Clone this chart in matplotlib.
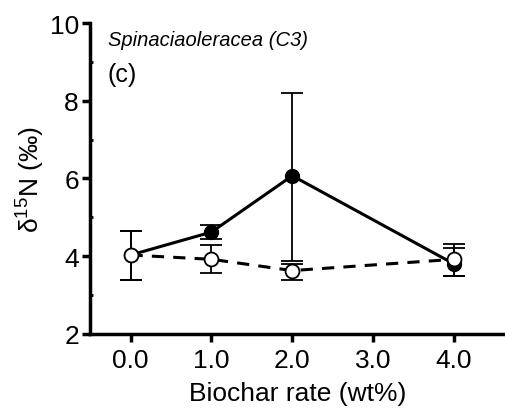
import matplotlib
matplotlib.use("Agg")
import matplotlib.pyplot as plt
from matplotlib.ticker import MultipleLocator

plt.rcParams['font.family'] = ['Liberation Sans', 'DejaVu Sans']
plt.rcParams['mathtext.fontset'] = 'custom'
plt.rcParams['mathtext.rm'] = 'Liberation Sans'
plt.rcParams['mathtext.it'] = 'Liberation Sans:italic'

# biochar rate (wt%)
rates = [0.0, 1.0, 2.0, 4.0]

# filled circles, solid line
filled_mean = [4.03, 4.62, 6.07, 3.80]
filled_up = [4.64, 4.79, 8.20, 4.21]
filled_low = [3.39, 4.45, 3.88, 3.48]

# open circles, dashed line
open_mean = [4.03, 3.92, 3.63, 3.92]
open_up = [4.64, 4.29, 3.81, 4.32]
open_low = [3.39, 3.56, 3.40, 3.50]


def main():
    fig = plt.figure(figsize=(5.06, 4.14), dpi=100)
    ax = fig.add_axes([0.178, 0.191, 0.82, 0.751])

    ferr = [[m - l for m, l in zip(filled_mean, filled_low)],
            [u - m for m, u in zip(filled_mean, filled_up)]]
    oerr = [[m - l for m, l in zip(open_mean, open_low)],
            [u - m for m, u in zip(open_mean, open_up)]]

    ax.errorbar(rates, filled_mean, yerr=ferr, fmt='none', ecolor='black',
                elinewidth=1.3, capsize=8, capthick=1.3, zorder=2)
    ax.plot(rates, filled_mean, '-', color='black', lw=2.2, zorder=3)
    ax.plot(rates, filled_mean, 'o', color='black', ms=10, zorder=4)

    ax.errorbar(rates, open_mean, yerr=oerr, fmt='none', ecolor='black',
                elinewidth=1.3, capsize=8, capthick=1.3, zorder=5)
    ax.plot(rates, open_mean, '--', color='black', lw=2.2,
            dashes=(4, 3), zorder=6)
    ax.plot(rates, open_mean, 'o', mfc='white', mec='black', mew=1.3,
            ms=10, zorder=7)

    ax.set_xlim(-0.5, 4.63)
    ax.set_ylim(2, 10)
    ax.set_xticks([0, 1, 2, 3, 4])
    ax.set_xticklabels(['0.0', '1.0', '2.0', '3.0', '4.0'])
    ax.set_yticks([2, 4, 6, 8, 10])
    ax.yaxis.set_minor_locator(MultipleLocator(1))

    for s in ['top', 'right']:
        ax.spines[s].set_visible(False)
    for s in ['left', 'bottom']:
        ax.spines[s].set_linewidth(2.5)
    ax.tick_params(which='major', length=6, width=2.5, labelsize=19, pad=2)
    ax.tick_params(axis='x', which='major', pad=4)
    ax.tick_params(which='minor', direction='in', length=2.5, width=2)

    ax.set_xlabel('Biochar rate (wt%)', fontsize=19, labelpad=6.5)
    ax.set_ylabel(r'$\mathregular{δ^{15}}$N (‰)', fontsize=19, labelpad=2)

    ax.text(-0.28, 9.44, 'Spinaciaoleracea (C3)', fontsize=14.5,
            style='italic', va='baseline', ha='left')
    ax.text(-0.29, 8.51, '(c)', fontsize=18, va='baseline', ha='left')

    fig.savefig('out.png', dpi=100)


if __name__ == "__main__":
    main()
